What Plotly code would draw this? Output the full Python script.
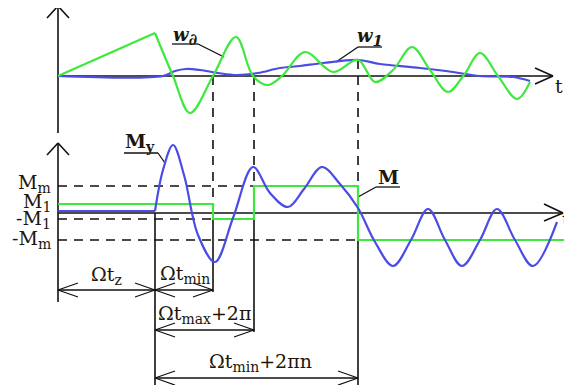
import plotly.graph_objects as go

# ---------------- data (pixel-space coordinates) ----------------
# Upper panel: w_d (green): linear ramp, then oscillation (extrema / crossings)
wd_ramp_x = [58, 155]
wd_ramp_y = [76, 33]
wd_osc_x = [155, 173, 190, 213, 236, 253, 268, 282, 305, 333, 358, 375, 393, 412, 430, 448, 464, 480, 498, 517, 530]
wd_osc_y = [33, 76, 113, 76, 37, 76, 85, 76, 52, 72, 60, 82, 70, 47, 70, 92, 75, 53, 76, 99, 82]

# Upper panel: w1 (blue)
w1_x = [58, 163, 175, 186, 200, 218, 237, 258, 280, 300, 323, 359, 380, 420, 453, 480, 513, 530]
w1_y = [76, 76, 71, 69, 70, 73, 75, 73, 68, 66, 63, 60, 64, 68, 72, 76, 77, 81]

# Lower panel: My (blue)
my_flat_x = [58, 155]
my_flat_y = [211, 211]
my_osc_x = [155, 163, 173, 184, 198, 215, 233, 253, 270, 288, 304, 322, 340, 358, 375, 393, 411, 428, 445, 462, 480, 497, 515, 533, 557]
my_osc_y = [211, 170, 145, 175, 235, 262, 218, 167, 193, 207, 189, 167, 184, 208, 242, 266, 240, 209, 240, 266, 240, 209, 240, 266, 222]

# Lower panel: M (green step)
m_x = [58, 213, 213, 254, 254, 358, 358, 572]
m_y = [204, 204, 219, 219, 186, 186, 240, 240]


def sub(s, px=14):
    return "<sub><span style='font-size:%dpx'>%s</span></sub>" % (px, s)


# Level labels and their y positions
level_labels = ["M" + sub("m"), "M" + sub("1"), "-M" + sub("1"), "-M" + sub("m")]
level_y = [183, 202, 219, 239]

# Dimension arrows: (x0, x1, y) and labels
dim_x0 = [58, 155, 155, 155]
dim_x1 = [155, 213, 254, 358]
dim_y = [290, 290, 330, 378]
dim_labels = ["Ωt" + sub("z"), "Ωt" + sub("min"), "Ωt" + sub("max") + "+2π", "Ωt" + sub("min") + "+2πn"]
dim_label_x = [106, 185, 204, 260]
dim_label_y = [275, 274, 314, 362]

# ---------------- styles ----------------
GREEN = "#3ee83e"
BLUE = "#4b4be6"
BLACK = "#111111"
TXT = "#22160a"
FONT = "DejaVu Serif"

fig = go.Figure()


def curve(x, y, color, shape="spline", width=2.2):
    fig.add_trace(go.Scatter(x=x, y=y, mode="lines",
                             line=dict(color=color, width=width, shape=shape, smoothing=1.0),
                             hoverinfo="skip", showlegend=False))


def seg(x0, y0, x1, y1, dash="solid", width=1.6, color=BLACK):
    fig.add_shape(type="line", x0=x0, y0=y0, x1=x1, y1=y1, xref="x", yref="y",
                  line=dict(color=color, width=width, dash=dash), layer="below")


DASH = "9px,7px"

# axes
seg(58, 6, 58, 133)
seg(47, 18, 58, 6); seg(58, 6, 69, 18)
seg(58, 76, 553, 76)
seg(535, 68, 553, 76); seg(553, 76, 535, 84)
seg(58, 143, 58, 302)
seg(47, 155, 58, 143); seg(58, 143, 69, 155)
seg(58, 213, 563, 213)
seg(544, 204, 563, 213); seg(563, 213, 544, 221)

# horizontal dashed levels
seg(58, 186, 254, 186, DASH)
seg(58, 219, 213, 219, DASH)
seg(58, 240, 358, 240, DASH)

# vertical dashed / solid guides
seg(213, 76, 213, 213, DASH); seg(213, 213, 213, 292)
seg(254, 76, 254, 213, DASH); seg(254, 213, 254, 332)
seg(358, 60, 358, 213, DASH); seg(358, 213, 358, 385)
seg(155, 213, 155, 385)

# dimension arrows with open heads
for x0, x1, y in zip(dim_x0, dim_x1, dim_y):
    seg(x0, y, x1, y, width=1.5)
    seg(x0 + 20, y - 7, x0, y, width=1.3); seg(x0, y, x0 + 20, y + 7, width=1.3)
    seg(x1 - 20, y - 7, x1, y, width=1.3); seg(x1, y, x1 - 20, y + 7, width=1.3)

# curves
curve(w1_x, w1_y, BLUE)
curve(wd_ramp_x, wd_ramp_y, GREEN, shape="linear")
curve(wd_osc_x, wd_osc_y, GREEN)
curve(m_x, m_y, GREEN, shape="linear")
curve(my_flat_x, my_flat_y, BLUE, shape="linear")
curve(my_osc_x, my_osc_y, BLUE)

# label leaders
seg(172, 44, 198, 44, width=1.3); seg(198, 44, 224, 57, width=1.3)
seg(358, 47, 382, 47, width=1.3); seg(358, 47, 336, 62, width=1.3)
seg(124, 153, 158, 153, width=1.3); seg(158, 153, 165, 163, width=1.3)
seg(376, 187, 400, 187, width=1.3); seg(376, 187, 358, 197, width=1.3)


def text(x, y, s, size=19, anchor="center", italic=False, bold=False):
    fig.add_annotation(x=x, y=y, xref="x", yref="y", text=s, showarrow=False,
                       xanchor=anchor, yanchor="middle",
                       font=dict(family=FONT, size=size, color=TXT,
                                 style="italic" if italic else "normal",
                                 weight="bold" if bold else "normal"))


for s, y in zip(level_labels, level_y):
    text(53, y, s, size=19, anchor="right")
for s, x, y in zip(dim_labels, dim_label_x, dim_label_y):
    text(x, y, s, size=19)

text(185, 36, "w" + sub("∂", 16), size=18, italic=True, bold=True)
text(370, 37, "w" + sub("1", 15), size=18, italic=True, bold=True)
text(140, 142, "M" + sub("y"), size=19, bold=True)
text(388, 177, "M", size=19, bold=True)
text(559, 86, "t", size=19)
text(566, 219, "t", size=19)

# the page body has an 8px margin, so the figure spans pixels 8..572 x 8..385
fig.update_xaxes(range=[8, 572], visible=False, fixedrange=True)
fig.update_yaxes(range=[385, 8], visible=False, fixedrange=True)
fig.update_layout(width=564, height=377, margin=dict(l=0, r=0, t=0, b=0),
                  plot_bgcolor="white", paper_bgcolor="white", showlegend=False)

fig.write_html("out.html", config={"displayModeBar": False})
